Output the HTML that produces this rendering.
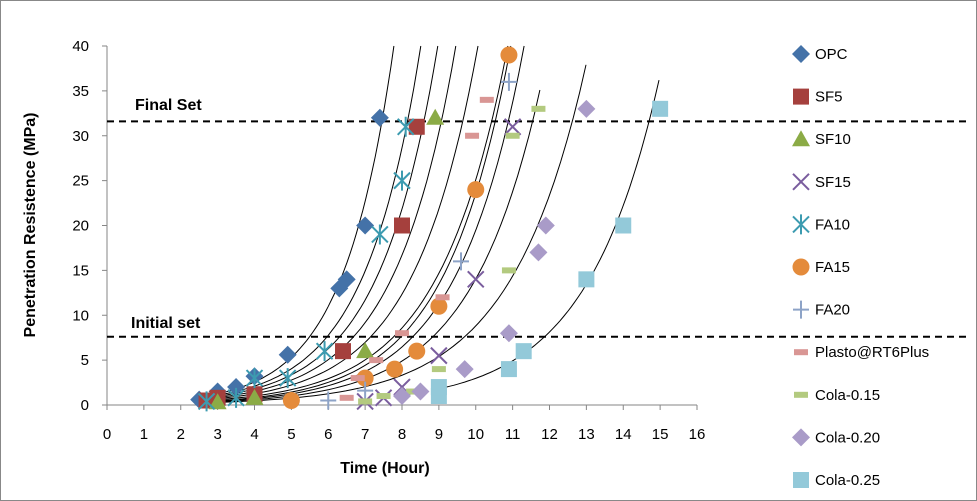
<!DOCTYPE html>
<html><head><meta charset="utf-8"><style>
html,body{margin:0;padding:0;background:#fff}
svg{display:block;font-family:"Liberation Sans",Arial,sans-serif}
</style></head><body>
<svg id="c" width="977" height="501" viewBox="0 0 977 501">
<rect x="0.5" y="0.5" width="976" height="500" fill="#fff" stroke="#888"/>
<g id="grid"></g><g id="curves"></g><g id="marks"></g><g id="legend"></g>
<text x="35" y="225" transform="rotate(-90 35 225)" text-anchor="middle" font-size="16" font-weight="bold">Penetration Resistence (MPa)</text>
<text x="385" y="473" text-anchor="middle" font-size="16" font-weight="bold">Time (Hour)</text>
<text x="135" y="110" font-size="16" font-weight="bold">Final Set</text>
<text x="131" y="328" font-size="16" font-weight="bold">Initial set</text>
</svg>
<script>
const xTicks=[0,1,2,3,4,5,6,7,8,9,10,11,12,13,14,15,16];
const yTicks=[0,5,10,15,20,25,30,35,40];
const finalSet=31.6, initialSet=7.6;
const seriesNames=["OPC","SF5","SF10","SF15","FA10","FA15","FA20","Plasto@RT6Plus","Cola-0.15","Cola-0.20","Cola-0.25"];
const opcX=[2.5,3,3.5,4,4.9,6.3,6.5,7,7.4], opcY=[0.6,1.5,2,3.2,5.6,13,14,20,32];
const sf5X=[2.7,3,4,6.4,8,8.4], sf5Y=[0.5,0.8,1.2,6,20,31];
const sf10X=[3,4,7,8.9], sf10Y=[0.3,0.8,6,32];
const sf15X=[7,7.5,8,9,10,11], sf15Y=[0.4,0.8,2,5.5,14,31];
const fa10X=[2.7,3.5,4,4.9,5.9,7.4,8,8.1], fa10Y=[0.4,0.8,3,3,6,19,25,31];
const fa15X=[5,7,7.8,8.4,9,10,10.9], fa15Y=[0.5,3,4,6,11,24,39];
const fa20X=[6,7,9.6,10.9], fa20Y=[0.5,1.6,16,36];
const plastoX=[6.5,6.8,7.3,8,9.1,9.9,10.3], plastoY=[0.8,3,5,8,12,30,34];
const cola15X=[7,7.5,8.3,9,10.9,11,11.7], cola15Y=[0.4,1,1.5,4,15,30,33];
const cola20X=[8,8.5,9.7,10.9,11.7,11.9,13], cola20Y=[1,1.5,4,8,17,20,33];
const cola25X=[9,9,10.9,11.3,13,14,15], cola25Y=[1,2,4,6,14,20,33];
// trend curves: start (x,y) and end (x,y)
const curveStartX=[2.7,2.7,2.7,2.7,2.7,2.7,2.7,2.7,2.7,2.7,9];
const curveStartY=[1,0.9,0.8,0.7,0.6,0.5,0.4,0.35,0.3,0.25,1.8];
const curveEndX=[7.78,8.51,8.97,9.46,10.06,10.87,10.95,11.31,11.74,12.99,14.97];
const curveEndY=[40,40,40,40,40,40,40,40,35.1,37.9,36.2];

const X=v=>107+v*36.875, Y=v=>405-v*8.975;
const NS="http://www.w3.org/2000/svg";
function mk(t,a,p){const e=document.createElementNS(NS,t);for(const k in a)e.setAttribute(k,a[k]);p.appendChild(e);return e;}
const grid=document.getElementById('grid');
let ax=mk('line',{x1:X(0),y1:Y(0),x2:X(16),y2:Y(0),stroke:'#868686'},grid);

let ay=mk('line',{x1:X(0),y1:Y(0),x2:X(0),y2:Y(40),stroke:'#868686'},grid);

xTicks.forEach(t=>{mk('line',{x1:X(t),y1:405,x2:X(t),y2:410,stroke:'#868686'},grid);
 const e=mk('text',{x:X(t),y:439,'text-anchor':'middle','font-size':15},grid);e.textContent=t;
 });
yTicks.forEach(t=>{mk('line',{x1:102,y1:Y(t),x2:107,y2:Y(t),stroke:'#868686'},grid);
 const e=mk('text',{x:89,y:Y(t)+5,'text-anchor':'end','font-size':15},grid);e.textContent=t;
 });
let f=mk('line',{x1:107,y1:Y(finalSet),x2:968,y2:Y(finalSet),stroke:'#000','stroke-width':2,'stroke-dasharray':'7,5'},grid);

let i=mk('line',{x1:107,y1:Y(initialSet),x2:968,y2:Y(initialSet),stroke:'#000','stroke-width':2,'stroke-dasharray':'7,5'},grid);


const cg=document.getElementById('curves');
curveStartX.forEach((x0,k)=>{const y0=curveStartY[k],x1=curveEndX[k],y1=curveEndY[k];
 const b=Math.log(y1/y0)/(x1-x0);let d='';
 for(let s=0;s<=60;s++){const x=x0+(x1-x0)*s/60,y=y0*Math.exp(b*(x-x0));d+=(s?'L':'M')+X(x).toFixed(1)+','+Y(y).toFixed(1);}
 const p=mk('path',{d:d,fill:'none',stroke:'#000','stroke-width':1},cg);
 });

const colors=['#4472a8','#a5403d','#8bab46','#7a5d9e','#3c9bb0','#e48b3b','#8da3c7','#d99694','#b3ca7f','#a99bc8','#93c9d9'];
const shapes=['diamond','square','triangle','x','star','circle','plus','dash','dash','diamond','square'];
const xs=[opcX,sf5X,sf10X,sf15X,fa10X,fa15X,fa20X,plastoX,cola15X,cola20X,cola25X];
const ys=[opcY,sf5Y,sf10Y,sf15Y,fa10Y,fa15Y,fa20Y,plastoY,cola15Y,cola20Y,cola25Y];
function marker(sh,cx,cy,c,p){
 if(sh==='diamond')return mk('path',{d:`M${cx},${cy-9}L${cx+9},${cy}L${cx},${cy+9}L${cx-9},${cy}Z`,fill:c},p);
 if(sh==='square')return mk('rect',{x:cx-8,y:cy-8,width:16,height:16,fill:c},p);
 if(sh==='triangle')return mk('path',{d:`M${cx},${cy-9}L${cx+9},${cy+7}L${cx-9},${cy+7}Z`,fill:c},p);
 if(sh==='circle')return mk('circle',{cx:cx,cy:cy,r:8.5,fill:c},p);
 if(sh==='x')return mk('path',{d:`M${cx-8},${cy-8}L${cx+8},${cy+8}M${cx-8},${cy+8}L${cx+8},${cy-8}`,stroke:c,'stroke-width':2},p);
 if(sh==='star')return mk('path',{d:`M${cx-8},${cy-8}L${cx+8},${cy+8}M${cx-8},${cy+8}L${cx+8},${cy-8}M${cx},${cy-10}L${cx},${cy+10}`,stroke:c,'stroke-width':2},p);
 if(sh==='plus')return mk('path',{d:`M${cx-8},${cy}L${cx+8},${cy}M${cx},${cy-9}L${cx},${cy+9}`,stroke:c,'stroke-width':2},p);
 return mk('rect',{x:cx-7,y:cy-3,width:14,height:6,fill:c},p);
}
const mg=document.getElementById('marks'),lg=document.getElementById('legend');
seriesNames.forEach((n,k)=>{xs[k].forEach((x,j)=>{const m=marker(shapes[k],X(x),Y(ys[k][j]),colors[k],mg);
 });
 const ly=54+k*42.6;
 const lm=marker(shapes[k],801,ly,colors[k],lg);
 
 const t=mk('text',{x:815,y:ly+5,'font-size':15},lg);t.textContent=n;
 });
</script>
</body></html>
